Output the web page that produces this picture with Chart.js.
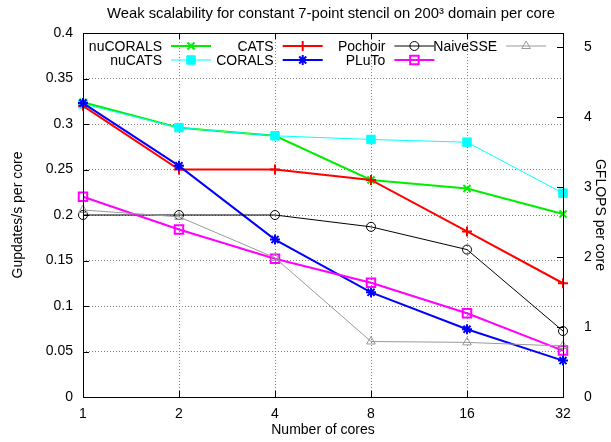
<!DOCTYPE html>
<html>
<head>
<meta charset="utf-8">
<title>Weak scalability</title>
<script src="https://cdn.jsdelivr.net/npm/chart.js@4"></script>
<style>
  html, body { margin: 0; padding: 0; background: #fff; }
  canvas { display: block; }
</style>
</head>
<body>
<canvas id="chart" width="611" height="442"></canvas>
<script>
// cores on the x axis (log2 spaced, so plain categories)
const cores = ['1', '2', '4', '8', '16', '32'];

// Gupdates/s per core
const nuCORALS = [0.324, 0.296, 0.287, 0.2385, 0.229, 0.201];
const nuCATS   = [0.322, 0.296, 0.287, 0.283, 0.280, 0.224];
const CATS     = [0.320, 0.250, 0.250, 0.2385, 0.182, 0.125];
const CORALS   = [0.323, 0.254, 0.173, 0.115, 0.0745, 0.040];
const Pochoir  = [0.200, 0.200, 0.200, 0.187, 0.162, 0.0725];
const PLuTo    = [0.220, 0.184, 0.152, 0.1255, 0.092, 0.051];
const NaiveSSE = [0.2055, 0.198, 0.153, 0.061, 0.060, 0.056];

const yTicks = [0, 0.05, 0.1, 0.15, 0.2, 0.25, 0.3, 0.35, 0.4];
const gflopsTicks = [0, 1, 2, 3, 4, 5];
const FLOPS_PER_UPDATE = 13;

const FONT = 'Liberation Sans, Arial, sans-serif';
const TITLE = 'Weak scalability for constant 7-point stencil on 200\u00b3 domain per core';

function series(label, data, color, width, style, radius, filled, order){
  return {
    label, data, order,
    borderColor: color,
    backgroundColor: filled ? color : 'transparent',
    borderWidth: width,
    pointStyle: style,
    pointRadius: radius,
    pointBorderWidth: filled ? 1 : (width > 1 ? 2 : 1),
    pointBorderColor: color,
    pointBackgroundColor: filled ? color : 'transparent',
    tension: 0,
    fill: false
  };
}

// gnuplot draws later curves on top; lower order = on top in Chart.js
const datasets = [
  series('nuCORALS', nuCORALS, '#00ee00', 2, 'crossRot', 5, false, 7),
  series('nuCATS',   nuCATS,   '#00ffff', 1, 'rect', 6, true, 6),
  series('CATS',     CATS,     '#ff0000', 2, 'cross', 5, false, 5),
  series('CORALS',   CORALS,   '#0000ff', 2, 'star', 5, false, 4),
  series('Pochoir',  Pochoir,  '#000000', 1, 'circle', 4.5, false, 3),
  series('PLuTo',    PLuTo,    '#ff00ff', 2, 'rect', 6, false, 2),
  series('NaiveSSE', NaiveSSE, '#999999', 1, 'triangle', 5, false, 1)
];

// title, frame around the plot with inward tick marks, gnuplot style
const framePlugin = {
  id: 'frame',
  afterDatasetsDraw(chart){
    const {ctx, chartArea: a, scales} = chart;
    ctx.save();
    ctx.fillStyle = '#000';
    ctx.font = '14.8px ' + FONT;
    ctx.textAlign = 'center';
    ctx.textBaseline = 'middle';
    ctx.fillText(TITLE, 331, 14);

    ctx.strokeStyle = '#000';
    ctx.lineWidth = 1;
    ctx.strokeRect(Math.round(a.left) + 0.5, Math.round(a.top) + 0.5,
      Math.round(a.right - a.left), Math.round(a.bottom - a.top));
    ctx.beginPath();
    const t = 6;
    scales.x.ticks.forEach((tk, i) => {
      const x = Math.round(scales.x.getPixelForTick(i)) + 0.5;
      ctx.moveTo(x, a.bottom); ctx.lineTo(x, a.bottom - t);
      ctx.moveTo(x, a.top); ctx.lineTo(x, a.top + t);
    });
    scales.y.ticks.forEach(tk => {
      const y = Math.round(scales.y.getPixelForValue(tk.value)) + 0.5;
      ctx.moveTo(a.left, y); ctx.lineTo(a.left + t, y);
    });
    scales.y1.ticks.forEach(tk => {
      const y = Math.round(scales.y1.getPixelForValue(tk.value)) + 0.5;
      ctx.moveTo(a.right, y); ctx.lineTo(a.right - t, y);
    });
    ctx.stroke();
    ctx.restore();
  }
};

// key inside the plot: label right-aligned, then sample line with marker
const keyPlugin = {
  id: 'gnuKey',
  afterDraw(chart){
    const {ctx, chartArea: a} = chart;
    const cols = [['nuCORALS', 'nuCATS'], ['CATS', 'CORALS'], ['Pochoir', 'PLuTo'], ['NaiveSSE']];
    ctx.save();
    ctx.font = '14px ' + FONT;
    ctx.textAlign = 'right';
    ctx.textBaseline = 'middle';
    cols.forEach((col, c) => {
      const textRight = a.left + 79 + c * 111.7;
      col.forEach((name, r) => {
        const ds = chart.data.datasets.find(d => d.label === name);
        const y = a.top + 13 + r * 14;
        ctx.fillStyle = '#000';
        ctx.fillText(name, textRight, y + 1);
        const x0 = textRight + 9, x1 = textRight + 49;
        ctx.strokeStyle = ds.borderColor;
        ctx.lineWidth = ds.borderWidth;
        ctx.beginPath();
        ctx.moveTo(x0, y); ctx.lineTo(x1, y);
        ctx.stroke();
        ctx.fillStyle = ds.pointBackgroundColor;
        ctx.strokeStyle = ds.pointBorderColor;
        ctx.lineWidth = ds.pointBorderWidth;
        Chart.helpers.drawPoint(ctx, {
          pointStyle: ds.pointStyle,
          radius: ds.pointRadius,
          borderWidth: ds.pointBorderWidth
        }, (x0 + x1) / 2, y);
      });
    });
    ctx.restore();
  }
};

const grid = {
  color: '#808080',
  lineWidth: 1,
  drawTicks: false
};

new Chart(document.getElementById('chart'), {
  type: 'line',
  data: { labels: cores, datasets },
  options: {
    responsive: false,
    animation: false,
    layout: { padding: { top: 33, right: 0, bottom: 0, left: 0 } },
    plugins: {
      legend: { display: false },
      tooltip: { enabled: false },
      title: { display: false }
    },
    scales: {
      x: {
        type: 'category',
        offset: false,
        grid: grid,
        border: { display: false, dash: [1, 2] },
        ticks: { color: '#000', font: { family: FONT, size: 14 }, padding: 9, maxRotation: 0, autoSkip: false },
        title: {
          display: true, text: 'Number of cores', color: '#000',
          font: { family: FONT, size: 14 }, padding: { top: 2, bottom: 3 }
        },
        afterFit(scale){ scale.height = 45; }
      },
      y: {
        position: 'left',
        min: 0, max: 0.4,
        grid: grid,
        border: { display: false, dash: [1, 2] },
        afterBuildTicks(scale){ scale.ticks = yTicks.map(v => ({ value: v })); },
        ticks: {
          color: '#000', font: { family: FONT, size: 14 }, padding: 10,
          callback: v => String(+v.toFixed(2))
        },
        title: {
          display: true, text: 'Gupdates/s per core', color: '#000',
          font: { family: FONT, size: 14 }, padding: { top: 10, bottom: 0 }
        },
        afterFit(scale){ scale.width = 83; }
      },
      y1: {
        position: 'right',
        min: 0, max: 0.4 * FLOPS_PER_UPDATE,
        grid: { display: false },
        border: { display: false },
        afterBuildTicks(scale){ scale.ticks = gflopsTicks.map(v => ({ value: v })); },
        ticks: { color: '#000', font: { family: FONT, size: 14 }, padding: 13 },
        title: {
          display: true, text: 'GFLOPS per core', color: '#000',
          font: { family: FONT, size: 14 }, padding: { top: 3, bottom: 0 }
        },
        afterFit(scale){ scale.width = 48; }
      }
    }
  },
  plugins: [framePlugin, keyPlugin]
});
</script>
</body>
</html>
